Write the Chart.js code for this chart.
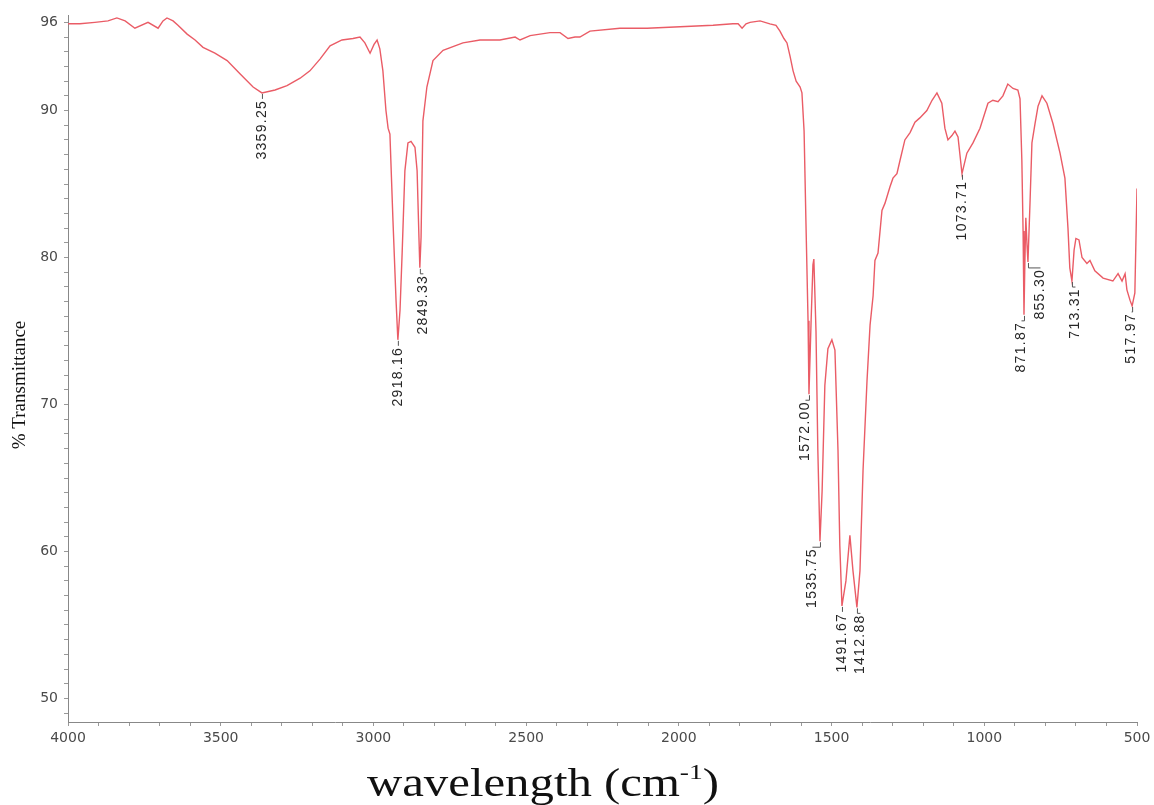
<!DOCTYPE html>
<html>
<head>
<meta charset="utf-8">
<script src="https://cdn.jsdelivr.net/npm/chart.js@4.4.1/dist/chart.umd.min.js"></script>
<style>
  html, body { margin: 0; padding: 0; background: #fff; }
  canvas { display: block; }
</style>
</head>
<body>
<canvas id="ftir" width="1154" height="805"></canvas>
<script>
// spectrum (wavenumber, % transmittance)
const waveNumbers = [
  4000, 3961, 3912, 3869, 3840, 3813, 3781, 3738, 3705, 3689, 3676, 3656, 3640, 3610, 3584, 3558,
  3519, 3479, 3437, 3394, 3365, 3322, 3283, 3240, 3208, 3175, 3142, 3103, 3067, 3044, 3028, 3011,
  2998, 2988, 2979, 2969, 2959, 2952, 2946, 2936, 2926, 2920, 2913, 2906, 2897, 2887, 2877, 2864,
  2857, 2851, 2848, 2844, 2838, 2825, 2805, 2772, 2707, 2651, 2586, 2536, 2520, 2487, 2422, 2389,
  2363, 2340, 2324, 2291, 2193, 2104, 1996, 1888, 1823, 1806, 1793, 1780, 1767, 1734, 1702, 1682,
  1669, 1656, 1646, 1636, 1626, 1616, 1603, 1597, 1590, 1584, 1577, 1574, 1567, 1561, 1558, 1551,
  1545, 1538, 1531, 1522, 1512, 1499, 1489, 1479, 1473, 1466, 1453, 1440, 1430, 1417, 1407, 1397,
  1384, 1374, 1364, 1358, 1348, 1335, 1325, 1309, 1299, 1286, 1276, 1260, 1243, 1227, 1211, 1188,
  1171, 1155, 1139, 1129, 1119, 1106, 1096, 1086, 1073, 1057, 1037, 1014, 988, 972, 955, 939,
  923, 906, 890, 883, 877, 873, 870, 867, 864, 860, 857, 850, 844, 834, 824, 811,
  795, 775, 752, 736, 726, 720, 713, 706, 700, 690, 680, 664, 654, 638, 611, 579,
  562, 549, 539, 533, 523, 516, 507, 500
];
const transmittance = [
  95.9, 95.9, 96.0, 96.1, 96.3, 96.1, 95.6, 96.0, 95.6, 96.1, 96.3, 96.1, 95.8, 95.2, 94.8, 94.3,
  93.9, 93.4, 92.5, 91.6, 91.2, 91.4, 91.7, 92.2, 92.7, 93.5, 94.4, 94.8, 94.9, 95.0, 94.6, 93.9,
  94.5, 94.8, 94.2, 92.7, 90.0, 88.8, 88.4, 82.5, 77.1, 74.4, 76.4, 80.3, 85.9, 87.8, 87.9, 87.5,
  85.9, 81.4, 79.3, 81.4, 89.3, 91.6, 93.4, 94.1, 94.6, 94.8, 94.8, 95.0, 94.8, 95.1, 95.3, 95.3,
  94.9, 95.0, 95.0, 95.4, 95.6, 95.6, 95.7, 95.8, 95.9, 95.9, 95.6, 95.9, 96.0, 96.1, 95.9, 95.8,
  95.4, 94.9, 94.6, 93.7, 92.7, 92.0, 91.6, 91.2, 88.6, 82.5, 75.7, 70.7, 75.7, 79.5, 79.9, 75.0,
  66.9, 60.7, 64.1, 71.3, 73.8, 74.4, 73.7, 66.9, 60.4, 56.3, 58.0, 61.1, 58.7, 56.2, 58.7, 65.5,
  71.6, 75.4, 77.4, 79.8, 80.3, 83.2, 83.7, 84.8, 85.4, 85.7, 86.6, 88.0, 88.5, 89.2, 89.5, 90.0,
  90.7, 91.2, 90.5, 88.8, 88.0, 88.3, 88.6, 88.2, 85.7, 87.1, 87.8, 88.8, 90.5, 90.7, 90.6, 91.0,
  91.8, 91.5, 91.4, 90.8, 86.6, 81.8, 76.1, 79.8, 82.7, 80.8, 79.7, 83.9, 87.8, 89.1, 90.3, 91.0,
  90.5, 89.1, 87.1, 85.4, 82.0, 79.3, 78.4, 80.5, 81.3, 81.2, 80.0, 79.6, 79.8, 79.1, 78.6, 78.4,
  78.9, 78.4, 78.9, 77.8, 77.1, 76.7, 77.6, 84.7
];

// annotated peaks: plotted position + printed label
const peakWaves = [3365, 2920, 2848, 1574, 1538, 1466, 1417, 1073, 870, 857, 713, 516];
const peakLabels = ['3359.25', '2918.16', '2849.33', '1572.00', '1535.75', '1491.67', '1412.88',
  '1073.71', '871.87', '855.30', '713.31', '517.97'];
const labelShiftX = [0, 0, 3, -4, -8, 0, 3, 0, -3, 12, 3, -1];

const yLabelTicks = [50, 60, 70, 80, 90, 96];
const xLabelStep = 500;

const peakLabelPlugin = {
  id: 'peakLabels',
  afterDatasetsDraw(chart) {
    const { ctx, scales: { x, y } } = chart;
    ctx.save();
    ctx.font = '14px "Liberation Sans", Arial, sans-serif';
    ctx.fillStyle = '#262626';
    ctx.strokeStyle = '#555';
    ctx.lineWidth = 1;
    ctx.letterSpacing = '1.3px';
    peakWaves.forEach((w, i) => {
      const idx = waveNumbers.indexOf(w);
      const px = x.getPixelForValue(w);
      const py = y.getPixelForValue(transmittance[idx]);
      const lx = px + labelShiftX[i];
      ctx.beginPath();
      ctx.moveTo(px + 0.5, py + 1);
      ctx.lineTo(px + 0.5, py + 6);
      if (labelShiftX[i] !== 0) ctx.lineTo(lx + 0.5, py + 6);
      ctx.stroke();
      ctx.save();
      ctx.translate(lx, py + 7);
      ctx.rotate(-Math.PI / 2);
      ctx.textAlign = 'right';
      ctx.textBaseline = 'middle';
      ctx.fillText(peakLabels[i], 0, 0);
      ctx.restore();
    });
    ctx.restore();
  },
};

const axisTitlePlugin = {
  id: 'axisTitles',
  afterDraw(chart) {
    const { ctx } = chart;
    const big = '39px "Liberation Serif", "Times New Roman", serif';
    const small = '22px "Liberation Serif", "Times New Roman", serif';
    ctx.save();
    ctx.fillStyle = '#111';
    // x title with superscript
    const main = 'wavelength (cm';
    const sup = '-1';
    const tail = ')';
    ctx.font = big;
    const w1 = ctx.measureText(main).width;
    const w3 = ctx.measureText(tail).width;
    ctx.font = small;
    const w2 = ctx.measureText(sup).width;
    const total = w1 + w2 + w3;
    const targetWidth = 352;
    ctx.save();
    ctx.translate(543 - targetWidth / 2, 796);
    ctx.scale(targetWidth / total, 1);
    ctx.textBaseline = 'alphabetic';
    ctx.font = big;
    ctx.fillText(main, 0, 0);
    ctx.font = small;
    ctx.fillText(sup, w1, -17);
    ctx.font = big;
    ctx.fillText(tail, w1 + w2, 0);
    ctx.restore();
    // y title
    ctx.translate(20, 385);
    ctx.rotate(-Math.PI / 2);
    ctx.textAlign = 'center';
    ctx.textBaseline = 'middle';
    ctx.font = '19px "Liberation Serif", "Times New Roman", serif';
    ctx.fillText('% Transmittance', 0, 0);
    ctx.restore();
  },
};

const points = waveNumbers.map((w, i) => ({ x: w, y: transmittance[i] }));

new Chart('ftir', {
  type: 'line',
  data: {
    datasets: [{
      data: points,
      borderColor: 'rgb(234, 92, 102)',
      borderWidth: 1.4,
      pointRadius: 0,
      tension: 0,
      fill: false,
    }],
  },
  options: {
    responsive: false,
    animation: false,
    layout: { padding: { top: 15, right: 17, left: 0, bottom: 0 } },
    plugins: {
      legend: { display: false },
      tooltip: { enabled: false },
    },
    scales: {
      x: {
        type: 'linear',
        reverse: true,
        min: 500,
        max: 4000,
        afterBuildTicks: scale => {
          const t = [];
          for (let v = 500; v <= 4000; v += 100) t.push({ value: v });
          scale.ticks = t;
        },
        afterFit: scale => { scale.height = 83; },
        ticks: {
          autoSkip: false,
          maxRotation: 0,
          padding: 4,
          color: '#4a4a4a',
          font: { family: '"DejaVu Sans", Verdana, sans-serif', size: 14 },
          callback: v => (v % xLabelStep === 0 ? String(v) : ''),
        },
        grid: { drawOnChartArea: false, tickLength: 4, color: '#999' },
        border: { color: '#888' },
      },
      y: {
        min: 48.4,
        max: 96.5,
        afterBuildTicks: scale => {
          const t = [];
          for (let v = 49; v <= 96; v += 1) t.push({ value: v });
          scale.ticks = t;
        },
        afterFit: scale => { scale.width = 68; },
        ticks: {
          autoSkip: false,
          padding: 6,
          color: '#4a4a4a',
          font: { family: '"DejaVu Sans", Verdana, sans-serif', size: 14 },
          callback: v => (yLabelTicks.includes(v) ? String(v) : ''),
        },
        grid: { drawOnChartArea: false, tickLength: 4, color: '#999' },
        border: { color: '#888' },
      },
    },
  },
  plugins: [peakLabelPlugin, axisTitlePlugin],
});
</script>
</body>
</html>
